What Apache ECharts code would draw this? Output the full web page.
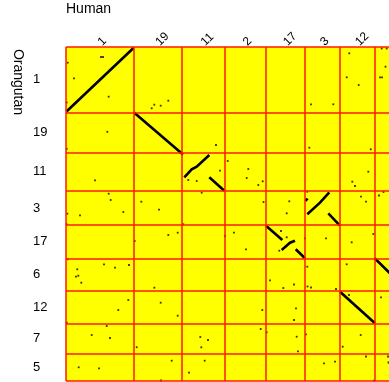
<!DOCTYPE html>
<html>
<head>
<meta charset="utf-8">
<script src="https://cdn.jsdelivr.net/npm/echarts@6.0.0/dist/echarts.min.js"></script>
<style>
  html, body { margin: 0; padding: 0; background: #fff; }
  #chart { width: 389px; height: 382px; }
</style>
</head>
<body>
<div id="chart"></div>
<script>
// Chromosome order and sizes (gene-index units) along each genome
const humanChr = ['1', '19', '11', '2', '17', '3', '12', '6'];
const humanSize = [2030, 1440, 1280, 1250, 1160, 1060, 1040, 1020];
const orangChr = ['1', '19', '11', '3', '17', '6', '12', '7', '5'];
const orangSize = [1960, 1210, 1145, 1030, 1000, 980, 965, 910, 820];

// Syntenic blocks: runs of orthologous gene pairs [human index, orangutan index]
const blocks = [
  [[15, 1935], [2025, 30]],
  [[2040, 1965], [3510, 3225]],
  [[3549, 3909], [3771, 3669], [3921, 3591], [4299, 3240]],
  [[4299, 3909], [4749, 4311]],
  [[7185, 4620], [7245, 4545]],
  [[7239, 5019], [7620, 4671], [7899, 4359]],
  [[7869, 4989], [8220, 5361]],
  [[6000, 5361], [6489, 5790]],
  [[6471, 6090], [6720, 5871], [6870, 5811]],
  [[6891, 6069], [7170, 6339]],
  [[8220, 7341], [9270, 8289]],
  [[9261, 6339], [10260, 7320]]
];

// Isolated orthologue hits
const hitHuman = [
  1050, 1110, 51, 240, 1281, 21, 1239, 21, 870, 1281, 1341, 1719, 39, 420, 21,
  51, 339, 300, 369, 459, 1140, 1470, 1890, 1869, 1569, 21, 1221, 771, 1320, 381, 990,
  2649, 2841, 2571, 3069, 2259, 2790, 3069, 3351, 2061, 2649, 2841, 3351, 2121, 3171, 2850,
  4500, 3669, 3921, 4071, 3519, 4029, 4260, 4059, 4161, 3690,
  4851, 4620, 5469, 5421, 5769, 5901, 5925, 4770, 5040, 5400, 5889, 5841, 6021,
  6699, 6621, 6450, 6621, 6399, 6120, 6519, 6840, 6900, 6840, 6921, 6960,
  7170, 7800, 7239, 7245, 7350, 8100, 7200, 7740, 8070, 7350, 8019, 7299, 7239,
  8499, 8421, 8781, 9141, 9069, 8589, 8670, 8850, 9000, 8571, 9219, 8421, 8490, 8841, 8301, 9000, 9240,
  9471, 9621, 9420, 9480, 9585, 9390, 9525, 9450, 9660, 9675
];
const hitOrang = [
  300, 300, 471, 939, 1491, 1665, 2544, 3054, 3999, 4401, 4590, 4950, 5001, 5049, 5319,
  6369, 6669, 6891, 6861, 7071, 6519, 6621, 6540, 7590, 7890, 8271, 8370, 8640, 8730, 9609, 9639,
  1731, 1761, 1839, 1611, 4641, 4881, 5640, 5571, 5820, 7221, 7671, 8061, 9006, 9411, 10005,
  2940, 3990, 4020, 4371, 5319, 8700, 8790, 9009, 9411, 9771,
  3420, 3711, 3660, 3930, 4140, 4029, 4650, 5670, 5571, 6069, 7890, 8460, 8559,
  4629, 4989, 5520, 5709, 6111, 6999, 7230, 7125, 7839, 8190, 8691, 9129,
  5739, 5739, 6591, 7185, 7215, 7260, 8619, 9489, 9441, 1719, 1719, 3021, 4341,
  189, 909, 1140, 3069, 3741, 4041, 4170, 4491, 4641, 5859, 5610, 6519, 7440, 8640, 8991, 9285, 10011,
  45, 45, 909, 909, 591, 4455, 4350, 7509, 9285, 9465
];

// Cumulative chromosome boundaries and label positions
function bounds(sizes) {
  const b = [0];
  sizes.forEach(s => b.push(b[b.length - 1] + s));
  return b;
}
const xBounds = bounds(humanSize);
const yBounds = bounds(orangSize);
const xMids = humanSize.map((s, i) => xBounds[i] + s / 2);
const yMids = orangSize.map((s, i) => yBounds[i] + s / 2);
const xMax = xBounds[xBounds.length - 1];
const yMax = yBounds[yBounds.length - 1];
const UNITS_PER_PX = 30;

const font = "'Liberation Sans', Arial, Helvetica, sans-serif";

const chart = echarts.init(document.getElementById('chart'), null, { renderer: 'canvas' });
chart.setOption({
  animation: false,
  backgroundColor: '#ffffff',
  graphic: [
    {
      type: 'text', x: 66, y: 9,
      style: { text: 'Human', font: '14px ' + font, fill: '#000', textAlign: 'left', textVerticalAlign: 'middle' }
    },
    {
      type: 'text', x: 17.5, y: 82, rotation: -Math.PI / 2,
      style: { text: 'Orangutan', font: '14px ' + font, fill: '#000', textAlign: 'center', textVerticalAlign: 'middle' }
    }
  ],
  grid: {
    left: 66, top: 47,
    width: xMax / UNITS_PER_PX, height: yMax / UNITS_PER_PX,
    outerBoundsMode: 'none', containLabel: false,
    show: true, backgroundColor: '#ffff00', borderWidth: 0
  },
  xAxis: {
    type: 'value', position: 'top', min: 0, max: xMax,
    axisLine: { show: false }, axisTick: { show: false }, splitLine: { show: false },
    axisLabel: {
      customValues: xMids,
      formatter: v => humanChr[xMids.indexOf(v)],
      rotate: 45, align: 'left', verticalAlign: 'middle', margin: 3,
      fontSize: 12, fontFamily: font, color: '#000'
    }
  },
  yAxis: {
    type: 'value', inverse: true, min: 0, max: yMax,
    axisLine: { show: false }, axisTick: { show: false }, splitLine: { show: false },
    axisLabel: {
      customValues: yMids,
      formatter: v => orangChr[yMids.indexOf(v)],
      align: 'left', verticalAlign: 'middle', margin: 33, padding: [0, 0, 9, 0],
      fontSize: 13, fontFamily: font, color: '#000'
    }
  },
  series: [
    {
      // chromosome boundaries
      type: 'scatter', data: [], z: 1, silent: true,
      markLine: {
        silent: true, symbol: 'none', label: { show: false },
        lineStyle: { color: '#ff1a00', width: 1.5, type: 'solid' },
        data: xBounds.map(v => ({ xAxis: v })).concat(yBounds.map(v => ({ yAxis: v })))
      }
    },
    {
      type: 'scatter', z: 2, silent: true,
      symbol: 'rect', symbolSize: 1.8,
      itemStyle: { color: '#111', opacity: 0.85 },
      data: hitHuman.map((x, i) => [x, hitOrang[i]])
    },
    {
      type: 'lines', coordinateSystem: 'cartesian2d', polyline: true, z: 3, silent: true,
      lineStyle: { color: '#000', width: 2.6, opacity: 1 },
      data: blocks.map(c => ({ coords: c }))
    }
  ]
});
</script>
</body>
</html>
